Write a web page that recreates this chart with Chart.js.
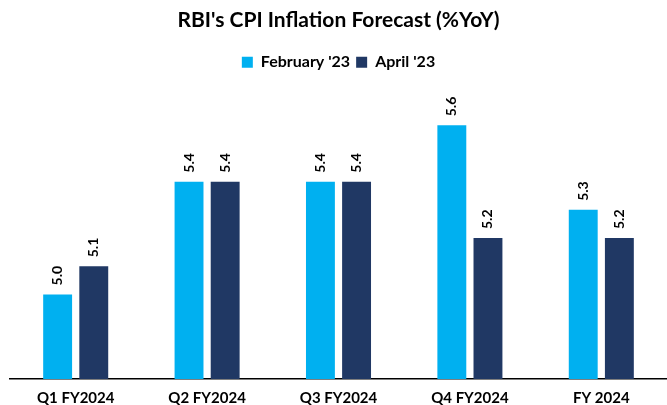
<!DOCTYPE html>
<html>
<head>
<meta charset="utf-8">
<script src="https://cdn.jsdelivr.net/npm/chart.js@4"></script>
<style>
html,body{margin:0;padding:0;background:#fff;}
#wrap{width:667px;height:405px;position:relative;}
</style>
</head>
<body>
<div id="wrap"><canvas id="c" width="667" height="405"></canvas></div>
<script>
const categories = ["Q1 FY2024", "Q2 FY2024", "Q3 FY2024", "Q4 FY2024", "FY 2024"];
const february23 = [5.0, 5.4, 5.4, 5.6, 5.3];
const april23 = [5.1, 5.4, 5.4, 5.2, 5.2];
const seriesNames = ["February '23", "April '23"];

const FONT = "Lato, 'Liberation Sans', sans-serif";

const valueLabels = {
  id: 'valueLabels',
  afterDatasetsDraw(chart) {
    const ctx = chart.ctx;
    ctx.save();
    ctx.font = "bold 14px " + FONT;
    ctx.fillStyle = "#000";
    ctx.textAlign = "left";
    ctx.textBaseline = "middle";
    chart.data.datasets.forEach((ds, i) => {
      const meta = chart.getDatasetMeta(i);
      meta.data.forEach((bar, j) => {
        ctx.save();
        ctx.translate(bar.x, bar.y - 9);
        ctx.rotate(-Math.PI / 2);
        ctx.fillText(ds.data[j].toFixed(1), 0, 0);
        ctx.restore();
      });
    });
    ctx.restore();
  }
};

new Chart(document.getElementById('c'), {
  type: 'bar',
  data: {
    labels: categories,
    datasets: [
      { label: seriesNames[0], data: february23, backgroundColor: '#00B0F0', categoryPercentage: 0.55, barPercentage: 0.8 },
      { label: seriesNames[1], data: april23, backgroundColor: '#203864', categoryPercentage: 0.55, barPercentage: 0.8 }
    ]
  },
  options: {
    responsive: false,
    animation: false,
    devicePixelRatio: 1,
    layout: { padding: { left: 10, right: 0, top: 8, bottom: -4 } },
    plugins: {
      title: {
        display: true,
        text: "RBI's CPI Inflation Forecast (%YoY)",
        color: '#000',
        font: { family: FONT, size: 21, weight: 'bold' },
        padding: { top: 0, bottom: 15 }
      },
      legend: {
        display: true,
        position: 'top',
        labels: {
          color: '#000',
          boxWidth: 11,
          boxHeight: 11,
          padding: 6,
          font: { family: FONT, size: 16, weight: 'bold' }
        }
      },
      tooltip: { enabled: false }
    },
    scales: {
      x: {
        grid: { display: false },
        border: { display: true, color: '#000', width: 1.5 },
        ticks: { color: '#000', padding: 2, font: { family: FONT, size: 15, weight: 'bold' } }
      },
      y: {
        display: false,
        min: 4.7,
        max: 5.76
      }
    }
  },
  plugins: [valueLabels]
});
</script>
</body>
</html>
